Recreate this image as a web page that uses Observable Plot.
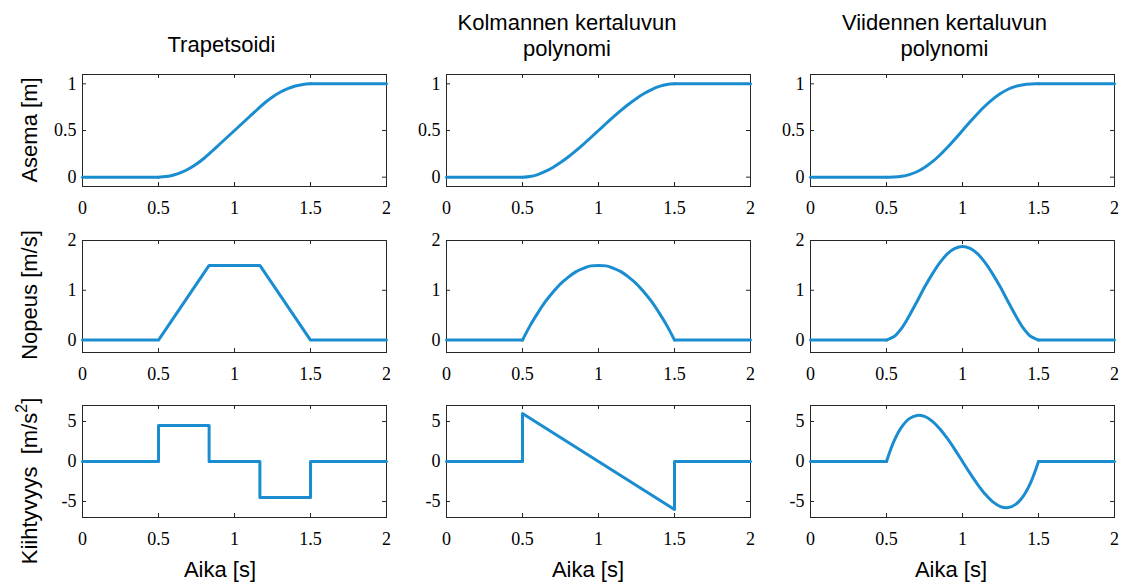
<!DOCTYPE html>
<html>
<head>
<meta charset="utf-8">
<script src="https://cdn.jsdelivr.net/npm/d3@7"></script>
<script src="https://cdn.jsdelivr.net/npm/@observablehq/plot@0.6"></script>
<style>
  body { margin: 0; background: #fff; }
  #chart { position: relative; width: 1128px; height: 585px; overflow: hidden; background: #fff; }
  #chart svg { position: absolute; overflow: visible; }
  #chart svg.panel text { font-family: "Liberation Serif", "Times New Roman", serif !important; }
</style>
</head>
<body>
<div id="chart"></div>
<script>
// ---- Labels ----
const columnTitles = [["Trapetsoidi"], ["Kolmannen kertaluvun", "polynomi"], ["Viidennen kertaluvun", "polynomi"]];
const rowLabels = [["Asema [m]", ""], ["Nopeus [m/s]", ""], ["Kiihtyvyys  [m/s", "2", "]"]];
const xLabel = "Aika [s]";

// ---- Tick values ----
const xTicks = [0, 0.5, 1, 1.5, 2];
const yTicksPos = [0, 0.5, 1];
const yTicksVel = [0, 1, 2];
const yTicksAcc = [-5, 0, 5];

// ---- Time samples for the smooth profiles ----
const tFine = [0, 0.5, 0.55, 0.6, 0.65, 0.7, 0.75, 0.8, 0.85, 0.9, 0.95, 1, 1.05, 1.1, 1.15, 1.2, 1.25, 1.3, 1.35, 1.4, 1.45, 1.5, 2];

// Trapezoidal velocity profile
const trapPos = [0, 0, 0.006, 0.023, 0.051, 0.09, 0.141, 0.203, 0.275, 0.35, 0.425, 0.5, 0.575, 0.65, 0.725, 0.797, 0.859, 0.91, 0.949, 0.977, 0.994, 1, 1];
const trapVelT = [0, 0.5, 0.833, 1.167, 1.5, 2];
const trapVel = [0, 0, 1.5, 1.5, 0, 0];
const trapAccT = [0, 0.5, 0.5, 0.833, 0.833, 1.167, 1.167, 1.5, 1.5, 2];
const trapAcc = [0, 0, 4.5, 4.5, 0, 0, -4.5, -4.5, 0, 0];

// Third-order polynomial
const cubicPos = [0, 0, 0.007, 0.028, 0.061, 0.104, 0.156, 0.216, 0.282, 0.352, 0.425, 0.5, 0.575, 0.648, 0.718, 0.784, 0.844, 0.896, 0.939, 0.972, 0.993, 1, 1];
const cubicVel = [0, 0, 0.29, 0.54, 0.77, 0.96, 1.13, 1.26, 1.37, 1.44, 1.49, 1.5, 1.49, 1.44, 1.37, 1.26, 1.13, 0.96, 0.77, 0.54, 0.29, 0, 0];
const cubicAccT = [0, 0.5, 0.5, 1.5, 1.5, 2];
const cubicAcc = [0, 0, 6, -6, 0, 0];

// Fifth-order polynomial
const quinticPos = [0, 0, 0.001, 0.009, 0.027, 0.058, 0.104, 0.163, 0.235, 0.317, 0.407, 0.5, 0.593, 0.683, 0.765, 0.837, 0.896, 0.942, 0.973, 0.991, 0.999, 1, 1];
const quinticVel = [0, 0, 0.07, 0.24, 0.49, 0.77, 1.06, 1.32, 1.55, 1.73, 1.84, 1.88, 1.84, 1.73, 1.55, 1.32, 1.06, 0.77, 0.49, 0.24, 0.07, 0, 0];
const quinticAcc = [0, 0, 2.57, 4.32, 5.36, 5.76, 5.63, 5.04, 4.1, 2.88, 1.49, 0, -1.49, -2.88, -4.1, -5.04, -5.63, -5.76, -5.36, -4.32, -2.57, 0, 0];

// Piecewise-linear profiles, drawn with straight segments
const straight = (ts, vs) => ({curve: "linear", rows: ts.map((t, i) => ({t, v: vs[i], seg: "all"}))});
// Smooth profiles: split into rest / motion / rest so the motion phase is
// drawn as a spline while the corners at the phase boundaries stay sharp
const smooth = (ts, vs) => {
  const rows = [];
  ts.forEach((t, i) => {
    const v = vs[i];
    if (t <= 0.5) rows.push({t, v, seg: "rest0"});
    if (t >= 0.5 && t <= 1.5) rows.push({t, v, seg: "move"});
    if (t >= 1.5) rows.push({t, v, seg: "rest1"});
  });
  return {curve: "catmull-rom", rows};
};

const panels = [
  [smooth(tFine, trapPos), straight(trapVelT, trapVel), straight(trapAccT, trapAcc)],
  [smooth(tFine, cubicPos), smooth(tFine, cubicVel), straight(cubicAccT, cubicAcc)],
  [smooth(tFine, quinticPos), smooth(tFine, quinticVel), smooth(tFine, quinticAcc)]
];
const yDomains = [[-0.1, 1.1], [-0.25, 2], [-7, 7]];
const yTicks = [yTicksPos, yTicksVel, yTicksAcc];

// ---- Layout ----
const colLeft = [81.5, 446, 810];
const rowTop = [74, 239.5, 405];
const W = 304, H = 112;
const mL = 45, mR = 10, mT = 10, mB = 35;
const lineColor = "#1a8dd0";
const axisColor = "#262626";
const tickLen = 4;
const tickFont = "'Liberation Serif', 'Times New Roman', serif";
const fmt = d => String(d);

const chart = document.getElementById("chart");

for (let c = 0; c < 3; c++) {
  for (let r = 0; r < 3; r++) {
    const series = panels[c][r];
    const svg = Plot.plot({
      width: W + mL + mR,
      height: H + mT + mB,
      marginLeft: mL, marginRight: mR, marginTop: mT, marginBottom: mB,
      style: {fontFamily: tickFont, fontSize: "18px", color: "#000", background: "transparent", overflow: "visible"},
      x: {domain: [0, 2], axis: null},
      y: {domain: yDomains[r], axis: null},
      marks: [
        Plot.frame({stroke: axisColor, strokeWidth: 1}),
        Plot.axisX(xTicks, {anchor: "bottom", label: null, tickSize: 0, tickPadding: 15, tickFormat: fmt, fontFamily: tickFont, fontSize: 18, fill: "#000"}),
        Plot.axisY(yTicks[r], {anchor: "left", label: null, tickSize: 0, tickPadding: 6, tickFormat: fmt, fontFamily: tickFont, fontSize: 18, fill: "#000"}),
        Plot.tickX(xTicks, {x: d => d, insetTop: H - tickLen, stroke: axisColor}),
        Plot.tickX(xTicks, {x: d => d, insetBottom: H - tickLen, stroke: axisColor}),
        Plot.tickY(yTicks[r], {y: d => d, insetRight: W - tickLen, stroke: axisColor}),
        Plot.tickY(yTicks[r], {y: d => d, insetLeft: W - tickLen, stroke: axisColor}),
        Plot.line(series.rows, {x: "t", y: "v", z: "seg", stroke: lineColor, strokeWidth: 3, curve: series.curve})
      ]
    });
    svg.classList.add("panel");
    svg.style.left = (colLeft[c] - mL) + "px";
    svg.style.top = (rowTop[r] - mT) + "px";
    chart.appendChild(svg);
  }
}

// ---- Titles, axis labels ----
const overlay = d3.select(chart).append("svg")
  .attr("width", 1128).attr("height", 585)
  .style("left", "0px").style("top", "0px")
  .style("font-family", "'Liberation Sans', Arial, sans-serif")
  .style("font-size", "22px");

const titleX = [221.5, 567, 944.5];
columnTitles.forEach((lines, c) => {
  const baselines = lines.length === 1 ? [52] : [30, 56];
  lines.forEach((s, i) => {
    overlay.append("text").attr("x", titleX[c]).attr("y", baselines[i])
      .attr("text-anchor", "middle").text(s);
  });
});

const xLabelX = [220, 588, 951];
xLabelX.forEach(x => {
  overlay.append("text").attr("x", x).attr("y", 577).attr("text-anchor", "middle").text(xLabel);
});

const yLabelCenter = [130, 295, 481];
rowLabels.forEach((parts, r) => {
  const t = overlay.append("text")
    .attr("transform", `translate(37,${yLabelCenter[r]}) rotate(-90)`)
    .attr("text-anchor", "middle")
    .attr("xml:space", "preserve")
    .style("white-space", "pre");
  t.append("tspan").text(parts[0]);
  if (parts[1]) {
    t.append("tspan").attr("dy", -10).style("font-size", "16px").text(parts[1]);
    t.append("tspan").attr("dy", 10).text(parts[2]);
  }
});
</script>
</body>
</html>
